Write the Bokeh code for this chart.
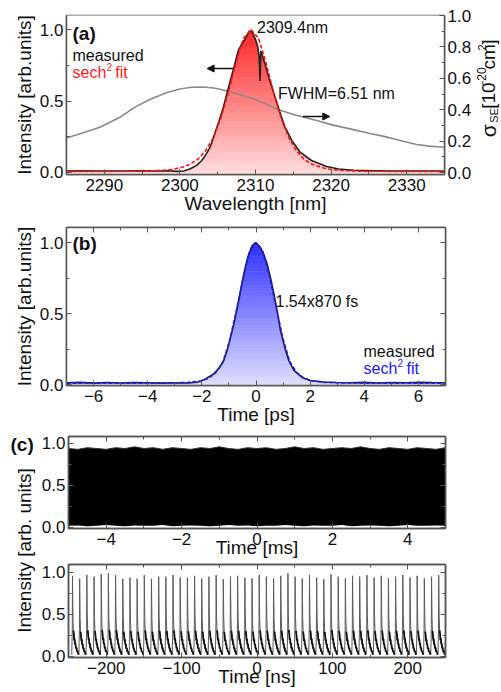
import numpy as np
from bokeh.plotting import figure
from bokeh.models import (Range1d, LinearAxis, FixedTicker, Label, Arrow, NormalHead,
                          PrintfTickFormatter)
from bokeh.layouts import column, row
from bokeh.embed import file_html
from bokeh.resources import INLINE

FONT = "Liberation Sans"
FRAME = "#555555"

# ---------------- data ----------------
# (a) spectrum
wl_meas = [2285, 2287, 2289, 2291, 2293, 2295, 2297, 2298.5, 2299.5, 2300.5, 2301.4, 2302.2,
           2302.9, 2303.5, 2304.0, 2304.6, 2305.2, 2305.75, 2306.2, 2306.6, 2307.1, 2307.7,
           2308.2, 2308.7, 2309.2, 2309.6, 2310.0, 2310.3, 2310.5, 2310.6, 2310.7, 2310.9,
           2311.25, 2311.9, 2312.6, 2313.15, 2313.9, 2314.8, 2315.9, 2317.4, 2319.4, 2321,
           2323, 2325, 2328, 2331, 2335]
int_meas = [0.010, 0.012, 0.010, 0.011, 0.010, 0.012, 0.011, 0.012, 0.008, 0.010, 0.026, 0.050,
            0.084, 0.130, 0.177, 0.270, 0.364, 0.457, 0.550, 0.630, 0.725, 0.850, 0.900, 0.940,
            0.990, 0.980, 0.930, 0.880, 0.800, 0.640, 0.850, 0.820, 0.760, 0.640, 0.527, 0.434,
            0.317, 0.224, 0.142, 0.084, 0.042, 0.025, 0.016, 0.013, 0.011, 0.010, 0.010]
wl_fit = [2285, 2290, 2293, 2295, 2297, 2299, 2300.4, 2301.4, 2302.4, 2303.4, 2304.4, 2305.4,
          2306.4, 2307.4, 2308.4, 2309.4, 2310.4, 2311.4, 2312.4, 2313.4, 2314.4, 2315.4,
          2316.4, 2317.4, 2319.4, 2321.4, 2324, 2328, 2335]
int_fit = [0.008, 0.008, 0.009, 0.010, 0.013, 0.021, 0.038, 0.059, 0.094, 0.152, 0.242, 0.378,
           0.557, 0.764, 0.938, 1.000, 0.938, 0.764, 0.557, 0.378, 0.242, 0.152, 0.094, 0.059,
           0.025, 0.014, 0.009, 0.008, 0.008]
wl_sig = [2285, 2287, 2289.5, 2292, 2294, 2296, 2298.3, 2300, 2301.5, 2303, 2304.5, 2306,
          2307.5, 2309.3, 2311, 2312.8, 2315, 2318.1, 2320, 2322.5, 2325, 2327, 2329, 2331.3,
          2333, 2335]
sig_se = [0.220, 0.250, 0.290, 0.350, 0.415, 0.465, 0.510, 0.532, 0.543, 0.545, 0.538, 0.522,
          0.502, 0.478, 0.445, 0.405, 0.370, 0.331, 0.305, 0.278, 0.250, 0.230, 0.205, 0.178,
          0.168, 0.161]

# (b) autocorrelation
t_ac = [-7, -6.5, -6, -5.5, -5, -4.5, -4, -3.5, -3, -2.5, -2.17, -1.9, -1.56, -1.35, -1.19,
        -1.05, -0.94, -0.8, -0.69, -0.55, -0.45, -0.3, -0.15, -0.02, 0.15, 0.3, 0.41, 0.55,
        0.66, 0.8, 0.905, 1.05, 1.21, 1.4, 1.7, 2.01, 2.5, 3, 3.5, 4, 4.5, 5, 5.5, 6, 6.5, 7]
ac_meas = [0.012, 0.015, 0.010, 0.014, 0.011, 0.013, 0.012, 0.010, 0.012, 0.011, 0.016, 0.035,
           0.075, 0.120, 0.169, 0.250, 0.333, 0.440, 0.544, 0.680, 0.780, 0.900, 0.975, 1.000,
           0.970, 0.910, 0.850, 0.740, 0.640, 0.500, 0.380, 0.270, 0.169, 0.099, 0.050, 0.028,
           0.018, 0.014, 0.012, 0.015, 0.011, 0.014, 0.012, 0.015, 0.013, 0.012]
t_acfit = [-7, -5, -4, -3, -2.5, -2.0, -1.75, -1.5, -1.25, -1.0, -0.75, -0.5, -0.25, 0, 0.25,
           0.5, 0.75, 1.0, 1.25, 1.5, 1.75, 2.0, 2.5, 3, 4, 5, 7]
ac_fit = [0.010, 0.010, 0.010, 0.012, 0.015, 0.026, 0.045, 0.080, 0.145, 0.290, 0.500, 0.730,
          0.928, 1.000, 0.940, 0.760, 0.540, 0.320, 0.160, 0.085, 0.048, 0.028, 0.015, 0.012,
          0.010, 0.010, 0.010]

# (c) pulse train, ms scale (envelope of the dense trace)
ms_t = [-5, -4.75, -4.5, -4.25, -4, -3.75, -3.5, -3.25, -3, -2.75, -2.5, -2.25, -2, -1.75,
        -1.5, -1.25, -1, -0.75, -0.5, -0.25, 0, 0.25, 0.5, 0.75, 1, 1.25, 1.5, 1.75, 2, 2.25,
        2.5, 2.75, 3, 3.25, 3.5, 3.75, 4, 4.25, 4.5, 4.75, 5]
ms_upper = [0.94, 0.93, 0.95, 0.94, 0.93, 0.95, 0.94, 0.96, 0.94, 0.95, 0.93, 0.95, 0.94, 0.93,
            0.95, 0.94, 0.96, 0.94, 0.93, 0.95, 0.94, 0.95, 0.93, 0.94, 0.96, 0.94, 0.95, 0.93,
            0.94, 0.95, 0.94, 0.96, 0.94, 0.93, 0.95, 0.94, 0.93, 0.95, 0.94, 0.93, 0.95]
ms_lower = [0.02, 0.025, 0.015, 0.02, 0.03, 0.02, 0.015, 0.025, 0.02, 0.02, 0.03, 0.015, 0.02,
            0.025, 0.02, 0.015, 0.02, 0.03, 0.02, 0.025, 0.015, 0.02, 0.02, 0.03, 0.02, 0.015,
            0.025, 0.02, 0.02, 0.03, 0.015, 0.02, 0.025, 0.02, 0.015, 0.02, 0.03, 0.02, 0.02,
            0.025, 0.02]

# (c) pulse train, ns scale
pulse_t = [-244.7, -235.2, -225.7, -216.1, -206.6, -197.1, -187.6, -178.0, -168.5, -159.0,
           -149.5, -140.0, -130.4, -120.9, -111.4, -101.9, -92.3, -82.8, -73.3, -63.8, -54.2,
           -44.7, -35.2, -25.7, -16.1, -6.6, 2.9, 12.4, 22.0, 31.5, 41.0, 50.5, 60.0, 69.6,
           79.1, 88.6, 98.1, 107.7, 117.2, 126.7, 136.2, 145.8, 155.3, 164.8, 174.3, 183.8,
           193.4, 202.9, 212.4, 221.9, 231.5, 241.0, 250.5]
pulse_h = [0.96, 0.925, 0.97, 0.95, 0.98, 0.99, 0.97, 0.925, 0.94, 0.925, 0.97, 0.925, 0.95,
           0.95, 0.97, 0.94, 0.94, 0.96, 0.93, 0.95, 0.97, 0.92, 0.95, 0.96, 0.94, 0.93, 0.97,
           0.95, 0.93, 0.96, 0.99, 0.95, 0.93, 0.97, 0.94, 0.92, 0.98, 0.95, 0.93, 0.96, 0.95,
           0.97, 0.94, 0.96, 0.93, 0.95, 0.97, 0.94, 0.96, 0.93, 0.95, 0.97, 0.96]
pulse_dt = [-1.0, -0.3, 0.0, 0.6, 1.2, 1.8, 2.3, 2.9, 3.4, 4.0, 4.6, 5.3, 6.0, 6.8, 7.6, 8.3]
pulse_shape = [0.02, 0.35, 1.0, 0.50, 0.32, 0.27, 0.20, 0.22, 0.15, 0.16, 0.10, 0.11, 0.06,
               0.07, 0.03, 0.03]

# tick definitions
xa_ticks, xa_minor = [2290, 2300, 2310, 2320, 2330], [2285, 2295, 2305, 2315, 2325, 2335]
ya_ticks, ya_minor = [0.0, 0.5, 1.0], [0.25, 0.75]
sa_ticks, sa_minor = [0.0, 0.2, 0.4, 0.6, 0.8, 1.0], [0.1, 0.3, 0.5, 0.7, 0.9]
xb_ticks, xb_minor = [-6, -4, -2, 0, 2, 4, 6], [-7, -5, -3, -1, 1, 3, 5, 7]
yb_ticks, yb_minor = [0.0, 0.5, 1.0], [0.25, 0.75]
xc_ticks, xc_minor = [-4, -2, 0, 2, 4], [-5, -3, -1, 1, 3, 5]
xd_ticks, xd_minor = [-200, -100, 0, 100, 200], [-250, -150, -50, 50, 150, 250]


# ---------------- helpers ----------------
class Map:
    """page pixel -> data coordinate for a frame placed at known page pixels"""
    def __init__(self, L, R, T, B, xr, yr):
        self.L, self.R, self.T, self.B, self.xr, self.yr = L, R, T, B, xr, yr

    def x(self, px):
        return self.xr[0] + (px - self.L) / (self.R - self.L) * (self.xr[1] - self.xr[0])

    def y(self, py):
        return self.yr[0] + (self.B - py) / (self.B - self.T) * (self.yr[1] - self.yr[0])


def make_fig(w, h, xr, yr, bl, br, bt, bb):
    p = figure(width=w, height=h, x_range=Range1d(*xr), y_range=Range1d(*yr),
               output_backend="svg", toolbar_location=None,
               min_border_left=bl, min_border_right=br, min_border_top=bt, min_border_bottom=bb)
    p.xgrid.visible = False
    p.ygrid.visible = False
    p.outline_line_color = FRAME
    p.outline_line_width = 1.5
    p.outline_line_alpha = 1.0
    return p


def blank_fig(w, h, xr, yr):
    p = figure(width=w, height=h, x_range=Range1d(*xr), y_range=Range1d(*yr),
               output_backend="svg", toolbar_location=None, x_axis_type=None,
               y_axis_type=None, min_border_left=0, min_border_right=0, min_border_top=0,
               min_border_bottom=0)
    p.outline_line_color = None
    p.xgrid.visible = False
    p.ygrid.visible = False
    return p


def style_axis(ax, ticks, minor, fmt=None, labels=True, standoff=3):
    ax.ticker = FixedTicker(ticks=ticks, minor_ticks=minor)
    ax.major_tick_in = 5
    ax.major_tick_out = 0
    ax.minor_tick_in = 3
    ax.minor_tick_out = 0
    ax.axis_line_color = FRAME
    ax.axis_line_width = 1.5
    ax.major_tick_line_color = FRAME
    ax.minor_tick_line_color = FRAME
    ax.major_tick_line_width = 1
    ax.minor_tick_line_width = 1
    ax.major_label_text_font = FONT
    ax.major_label_text_font_size = "17px"
    ax.major_label_text_color = "#111111"
    ax.major_label_standoff = standoff
    ax.axis_label_text_font = FONT
    ax.axis_label_text_font_size = "19px"
    ax.axis_label_text_font_style = "normal"
    ax.axis_label_text_color = "#111111"
    if fmt:
        ax.formatter = PrintfTickFormatter(format=fmt)
    if not labels:
        ax.major_label_text_font_size = "1px"
        ax.major_label_text_color = None
        ax.major_label_standoff = 0


def mirror(p, xt, xm, yt, ym, top=True, right=True):
    if right:
        ax = LinearAxis()
        style_axis(ax, yt, ym, labels=False)
        p.add_layout(ax, "right")
    if top:
        ax = LinearAxis()
        style_axis(ax, xt, xm, labels=False)
        p.add_layout(ax, "above")


def txt(p, x, y, s, size="16px", color="#111111", bold=False, align="left",
        baseline="middle", angle=0.0):
    p.add_layout(Label(x=x, y=y, text=s, text_font=FONT, text_font_size=size,
                       text_color=color, text_font_style="bold" if bold else "normal",
                       text_align=align, text_baseline=baseline, angle=angle))


def gradient(p, x0, x1, y0, y1, c_lo, c_hi, n=50):
    lv = np.linspace(y0, y1, n + 1)
    bottoms, tops = lv[:-1], lv[1:]
    f = (0.5 * (bottoms + tops) - y0) / (y1 - y0)
    cols = []
    for fi in f:
        r = int(round(c_lo[0] + (c_hi[0] - c_lo[0]) * fi))
        g = int(round(c_lo[1] + (c_hi[1] - c_lo[1]) * fi))
        b = int(round(c_lo[2] + (c_hi[2] - c_lo[2]) * fi))
        cols.append("#%02x%02x%02x" % (r, g, b))
    p.quad(left=[x0] * n, right=[x1] * n, bottom=bottoms, top=tops,
           fill_color=cols, line_color=cols, line_width=0.6)


up = np.pi / 2
W = 500

# ---------------- panel (a) ----------------
xa_r, ya_r, sa_r = (2285, 2335), (-0.014, 1.098), (-0.0127, 1.0)
pa = make_fig(474, 218, xa_r, ya_r, 66, 29, 15, 44)
pa.extra_y_ranges = {"sig": Range1d(*sa_r)}
mA = Map(66, 445, 15, 174, xa_r, ya_r)

gradient(pa, xa_r[0], xa_r[1], ya_r[0], 1.0, (255, 222, 222), (255, 35, 35))
pa.varea(x=wl_meas, y1=int_meas, y2=[1.3] * len(wl_meas), fill_color="white")
pa.line(wl_sig, sig_se, y_range_name="sig", line_color="#8a8a8a", line_width=1.6)
pa.line(wl_meas, int_meas, line_color="#222222", line_width=1.6)
pa.line(wl_fit, int_fit, line_color="#ff1010", line_width=1.6, line_dash="4 2")

style_axis(pa.xaxis[0], xa_ticks, xa_minor, standoff=4)
pa.xaxis[0].axis_label = "Wavelength [nm]"
pa.xaxis[0].axis_label_standoff = -1
style_axis(pa.yaxis[0], ya_ticks, ya_minor, fmt="%.1f", standoff=3)
pa.yaxis[0].axis_label = "Intensity [arb.units]"
pa.yaxis[0].axis_label_standoff = 2
sax = LinearAxis(y_range_name="sig")
style_axis(sax, sa_ticks, sa_minor, fmt="%.1f", standoff=3)
pa.add_layout(sax, "right")

txt(pa, mA.x(72), mA.y(33), "(a)", size="19px", bold=True)
txt(pa, mA.x(72), mA.y(55), "measured")
txt(pa, mA.x(72), mA.y(72), "sech", color="#ff1a1a")
txt(pa, mA.x(106), mA.y(66), "2", size="10px", color="#ff1a1a")
txt(pa, mA.x(115), mA.y(72), "fit", color="#ff1a1a")
txt(pa, mA.x(257), mA.y(27), "2309.4nm")
txt(pa, mA.x(278), mA.y(93), "FWHM=6.51 nm")
pa.add_layout(Arrow(end=NormalHead(size=7, fill_color="#111111", line_color="#111111"),
                    x_start=mA.x(233), y_start=mA.y(68), x_end=mA.x(207), y_end=mA.y(68),
                    line_color="#111111", line_width=1.5))
pa.add_layout(Arrow(end=NormalHead(size=7, fill_color="#111111", line_color="#111111"),
                    x_start=mA.x(303), y_start=mA.y(116), x_end=mA.x(330), y_end=mA.y(116),
                    line_color="#111111", line_width=1.5))

# right-axis title: sigma_SE [10^-20 cm^2]  (own strip, page coordinates)
ps = blank_fig(26, 218, (474, 500), (218, 0))
txt(ps, 488, 167, "σ", size="21px", angle=up)
txt(ps, 493, 147, "SE", size="11px", angle=up)
txt(ps, 488, 128, "[10", size="19px", angle=up)
txt(ps, 481, 95, "-20", size="12px", angle=up)
txt(ps, 488, 74, "cm", size="19px", angle=up)
txt(ps, 481, 48, "2", size="11px", angle=up)
txt(ps, 488, 40, "]", size="19px", angle=up)

# ---------------- panel (b) ----------------
xb_r, yb_r = (-7, 7), (-0.007, 1.106)
pb = make_fig(W, 212, xb_r, yb_r, 66, 55, 9, 45)
mB = Map(66, 445, 227, 385, xb_r, yb_r)
gradient(pb, xb_r[0], xb_r[1], yb_r[0], 1.0, (224, 224, 255), (45, 45, 255))
pb.varea(x=t_ac, y1=ac_meas, y2=[1.3] * len(t_ac), fill_color="white")
pb.line(t_ac, ac_meas, line_color="#222222", line_width=1.6)
pb.line(t_acfit, ac_fit, line_color="#1a1aff", line_width=1.6, line_dash="4 2")
style_axis(pb.xaxis[0], xb_ticks, xb_minor, standoff=4)
pb.xaxis[0].axis_label = "Time [ps]"
pb.xaxis[0].axis_label_standoff = -1
style_axis(pb.yaxis[0], yb_ticks, yb_minor, fmt="%.1f", standoff=3)
pb.yaxis[0].axis_label = "Intensity [arb.units]"
pb.yaxis[0].axis_label_standoff = 2
mirror(pb, xb_ticks, xb_minor, yb_ticks, yb_minor)
txt(pb, mB.x(72), mB.y(243), "(b)", size="19px", bold=True)
txt(pb, mB.x(275), mB.y(301), "1.54x870 fs")
txt(pb, mB.x(363), mB.y(351), "measured")
txt(pb, mB.x(363), mB.y(368), "sech", color="#1a1aff")
txt(pb, mB.x(397), mB.y(362), "2", size="10px", color="#1a1aff")
txt(pb, mB.x(406), mB.y(368), "fit", color="#1a1aff")

# ---------------- panel (c) ----------------
WC = W - 38
xc_r, yc_r = (-5, 5), (-0.012, 1.083)
pc = make_fig(WC, 132, xc_r, yc_r, 28, 55, 6, 34)
pc.varea(x=ms_t, y1=ms_lower, y2=ms_upper, fill_color="black")
pc.line(ms_t, ms_upper, line_color="#333333", line_width=1)
style_axis(pc.xaxis[0], xc_ticks, xc_minor, standoff=4)
pc.xaxis[0].axis_label = "Time [ms]"
pc.xaxis[0].axis_label_standoff = -11
style_axis(pc.yaxis[0], yb_ticks, yb_minor, fmt="%.1f", standoff=3)
mirror(pc, xc_ticks, xc_minor, yb_ticks, yb_minor)

xd_r, yd_r = (-250, 250), (-0.012, 1.095)
pd = make_fig(WC, 129, xd_r, yd_r, 28, 55, 2, 34)
pt_x, pt_y, tail_xs, tail_ys = [], [], [], []
for tk, hk in zip(pulse_t, pulse_h):
    tx, ty = [], []
    for d, s in zip(pulse_dt, pulse_shape):
        pt_x.append(tk + d)
        pt_y.append(hk * s)
        if d >= 1.2:
            tx.append(tk + d)
            ty.append(hk * s)
    tail_xs.append(tx)
    tail_ys.append(ty)
pd.line(pt_x, pt_y, line_color="#5a5a5a", line_width=1.0)
pd.multi_line(tail_xs, tail_ys, line_color="#111111", line_width=1.8)
style_axis(pd.xaxis[0], xd_ticks, xd_minor, standoff=4)
pd.xaxis[0].axis_label = "Time [ns]"
pd.xaxis[0].axis_label_standoff = -11
style_axis(pd.yaxis[0], yb_ticks, yb_minor, fmt="%.1f", standoff=3)
mirror(pd, xd_ticks, xd_minor, yb_ticks, yb_minor)

# label strip for panel (c) (page coordinates)
pl = blank_fig(38, 261, (0, 38), (691, 430))
txt(pl, 10, 444, "(c)", size="19px", bold=True)
txt(pl, 23.5, 550, "Intensity [arb. units]", size="19px", align="center", angle=up)

layout = column(row(pa, ps), pb, row(pl, column(pc, pd)))
open("out.html", "w").write(file_html(layout, INLINE))
